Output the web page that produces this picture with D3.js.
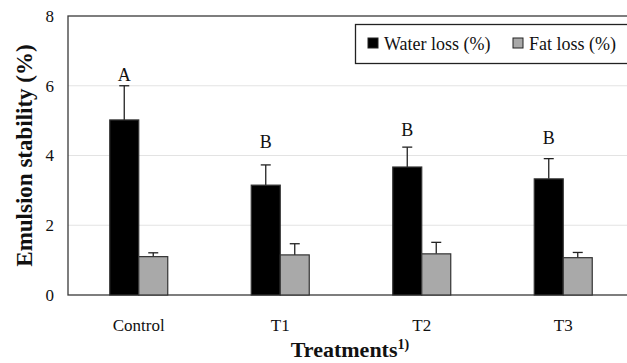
<!DOCTYPE html>
<html>
<head>
<meta charset="utf-8">
<script src="https://cdn.jsdelivr.net/npm/d3@7"></script>
<style>
  html, body { margin: 0; padding: 0; background: #fff; }
  svg { display: block; font-family: "Liberation Serif", "Times New Roman", serif; }
  svg text { font-family: "Liberation Serif", "Times New Roman", serif; }
</style>
</head>
<body>
<svg id="chart" width="627" height="363"></svg>
<script>
const categories = ["Control", "T1", "T2", "T3"];
const seriesNames = ["Water loss (%)", "Fat loss (%)"];
const waterLoss = [5.02, 3.15, 3.67, 3.33];
const waterErr = [0.98, 0.58, 0.57, 0.58];
const fatLoss = [1.10, 1.15, 1.18, 1.07];
const fatErr = [0.11, 0.32, 0.33, 0.15];
const letters = ["A", "B", "B", "B"];
const letterPos = [6.13, 4.21, 4.56, 4.33];
const yTicks = [0, 2, 4, 6, 8];

const colors = ["#000000", "#a9a9a9"];

const svg = d3.select("#chart");
const m = { left: 68, top: 16, right: 634, bottom: 295 };

const x = d3.scaleBand().domain(categories).range([m.left, m.right]).paddingInner(0).paddingOuter(0);
const xSub = d3.scaleBand().domain([0, 1]).range([0, x.bandwidth()]).paddingInner(0).paddingOuter(1.44);
const y = d3.scaleLinear().domain([0, 8]).range([m.bottom, m.top]);

// gridlines
svg.append("g").selectAll("line").data(yTicks.filter(t => t > 0 && t < 8)).join("line")
  .attr("x1", m.left).attr("x2", m.right)
  .attr("y1", d => y(d)).attr("y2", d => y(d))
  .attr("stroke", "#e3e3e3").attr("stroke-width", 1);

// frame
svg.append("rect").attr("x", m.left).attr("y", y(8))
  .attr("width", m.right - m.left).attr("height", y(0) - y(8))
  .attr("fill", "none").attr("stroke", "#3a3a3a").attr("stroke-width", 1.3);

// y axis
const yAxis = d3.axisLeft(y).tickValues(yTicks).tickSize(0).tickPadding(14).tickFormat(d3.format("d"));
const gy = svg.append("g").attr("transform", `translate(${m.left},0)`).call(yAxis);
gy.attr("font-family", null);
gy.select(".domain").remove();
gy.selectAll("text").attr("font-size", 17).attr("fill", "#111");

// x axis
const xAxis = d3.axisBottom(x).tickSize(0).tickPadding(24);
const gx = svg.append("g").attr("transform", `translate(0,${m.bottom})`).call(xAxis);
gx.attr("font-family", null);
gx.select(".domain").remove();
gx.selectAll("text").attr("font-size", 17).attr("fill", "#111");

// bars
const data = categories.map((c, i) => ({
  cat: c,
  vals: [
    { s: 0, v: waterLoss[i], e: waterErr[i] },
    { s: 1, v: fatLoss[i], e: fatErr[i] }
  ]
}));

const groups = svg.append("g").selectAll("g").data(data).join("g")
  .attr("transform", d => `translate(${x(d.cat)},0)`);

groups.selectAll("line.err").data(d => d.vals).join("line")
  .attr("class", "err")
  .attr("x1", d => xSub(d.s) + xSub.bandwidth() / 2)
  .attr("x2", d => xSub(d.s) + xSub.bandwidth() / 2)
  .attr("y1", d => y(d.v)).attr("y2", d => y(d.v + d.e))
  .attr("stroke", "#222").attr("stroke-width", 1.3);

groups.selectAll("line.cap").data(d => d.vals).join("line")
  .attr("class", "cap")
  .attr("x1", d => xSub(d.s) + xSub.bandwidth() / 2 - 5)
  .attr("x2", d => xSub(d.s) + xSub.bandwidth() / 2 + 5)
  .attr("y1", d => y(d.v + d.e)).attr("y2", d => y(d.v + d.e))
  .attr("stroke", "#222").attr("stroke-width", 1.3);

groups.selectAll("rect").data(d => d.vals).join("rect")
  .attr("x", d => xSub(d.s)).attr("width", xSub.bandwidth())
  .attr("y", d => y(d.v)).attr("height", d => y(0) - y(d.v))
  .attr("fill", d => colors[d.s]).attr("stroke", "#333").attr("stroke-width", 1.2);

// letters
groups.append("text")
  .attr("x", xSub(0) + xSub.bandwidth() / 2)
  .attr("y", (d, i) => y(letterPos[i]))
  .attr("text-anchor", "middle").attr("font-size", 18).attr("fill", "#111")
  .text((d, i) => letters[i]);

// axis titles
svg.append("text")
  .attr("transform", `translate(32,${(m.top + m.bottom) / 2}) rotate(-90)`)
  .attr("text-anchor", "middle").attr("font-size", 23).attr("font-weight", "bold").attr("fill", "#111")
  .text("Emulsion stability (%)");

const xt = svg.append("text")
  .attr("x", 350).attr("y", 357)
  .attr("text-anchor", "middle").attr("font-size", 22).attr("font-weight", "bold").attr("fill", "#111");
xt.append("tspan").text("Treatments");
xt.append("tspan").attr("font-size", 14).attr("dy", -8).text("1)");

// legend
const lg = svg.append("g");
lg.append("rect").attr("x", 355.5).attr("y", 24.5).attr("width", 290).attr("height", 39)
  .attr("fill", "#fff").attr("stroke", "#222").attr("stroke-width", 1.3);
const legendX = [368, 513];
const items = lg.selectAll("g.item").data(seriesNames).join("g").attr("class", "item")
  .attr("transform", (d, i) => `translate(${legendX[i]},0)`);
items.append("rect").attr("x", 0).attr("y", 38).attr("width", 10).attr("height", 10)
  .attr("fill", (d, i) => colors[i]).attr("stroke", "#222").attr("stroke-width", 1);
items.append("text").attr("x", 16).attr("y", 49.5).attr("font-size", 18).attr("fill", "#111")
  .text(d => d);
</script>
</body>
</html>
